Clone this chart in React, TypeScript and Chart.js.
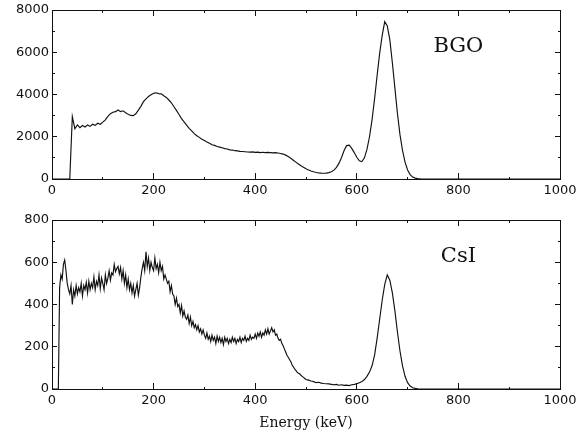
import React, { useEffect, useRef } from 'react';
import { Chart, registerables } from 'chart.js';

Chart.register(...registerables);

// BGO spectrum: 5 keV bins from 0 to 1000 keV
const BGO_BIN_KEV = 5;
const BGO_COUNTS = [
  0, 0, 0, 0, 0, 0, 0, 0,
  2950, 2380, 2560, 2430, 2530, 2460, 2560, 2490, 2590, 2540, 2640, 2590,
  2690, 2800, 2960, 3090, 3160, 3190, 3270, 3190, 3230, 3140, 3060, 3010, 3000, 3090, 3260, 3440, 3660, 3790, 3910, 3990,
  4060, 4080, 4040, 4030, 3940, 3860, 3740, 3610, 3420, 3250, 3050, 2860, 2700, 2550, 2400, 2280, 2150, 2050, 1970, 1880,
  1820, 1750, 1690, 1620, 1590, 1540, 1510, 1480, 1440, 1420, 1380, 1370, 1340, 1330, 1310, 1300, 1290, 1280, 1270, 1285,
  1260, 1275, 1250, 1265, 1250, 1260, 1250, 1240, 1250, 1230, 1210, 1180, 1130, 1060, 980, 890, 800, 710, 630, 560,
  490, 430, 380, 340, 310, 290, 275, 270, 280, 300, 340, 420, 550, 750, 1020, 1350, 1580, 1600, 1450, 1250,
  1030, 860, 820, 1000, 1400, 2000, 2800, 3800, 4900, 5950, 6800, 7450, 7250, 6600, 5500, 4300, 3100, 2100, 1350, 800,
  430, 210, 90, 40, 15, 5, 0, 0, 0, 0, 0, 0, 0, 0, 0, 0, 0, 0, 0, 0,
  0, 0, 0, 0, 0, 0, 0, 0, 0, 0, 0, 0, 0, 0, 0, 0, 0, 0, 0, 0,
  0, 0, 0, 0, 0, 0, 0, 0, 0, 0, 0, 0, 0, 0, 0, 0, 0, 0, 0, 0,
  0,
];

// CsI spectrum: 2.5 keV bins from 0 to 497.5 keV ...
const CSI_LOW_BIN_KEV = 2.5;
const CSI_LOW_START_KEV = 0;
const CSI_LOW_COUNTS = [
  0, 0, 0, 0, 0, 0, 480, 540, 520, 590, 610, 560, 500, 470, 450, 490, 400, 470, 440, 490,
  450, 480, 460, 500, 440, 490, 470, 505, 455, 510, 470, 500, 480, 530, 470, 510, 490, 540, 475, 525,
  500, 470, 540, 500, 525, 560, 515, 550, 540, 590, 555, 570, 580, 545, 575, 520, 560, 500, 540, 480,
  520, 470, 500, 455, 490, 440, 470, 500, 445, 480, 530, 570, 600, 560, 650, 580, 620, 560, 600, 575,
  560, 620, 570, 590, 550, 600, 560, 580, 520, 540, 520, 500, 510, 460, 490, 450, 440, 400, 430, 390,
  400, 360, 395, 345, 370, 340, 330, 350, 310, 340, 300, 320, 290, 305, 280, 300, 270, 285, 260, 280,
  255, 240, 265, 235, 250, 225, 255, 230, 245, 215, 250, 225, 245, 220, 240, 210, 245, 225, 240, 215,
  235, 220, 245, 225, 240, 215, 235, 225, 245, 220, 240, 230, 250, 225, 240, 230, 255, 235, 245, 240,
  260, 240, 265, 250, 270, 245, 265, 255, 280, 260, 285, 260, 275, 290, 270, 280, 255, 260, 240, 230,
  235, 215, 205, 190, 175, 160, 150, 140, 130, 115, 105, 95, 88, 80, 75, 72, 65, 60, 55, 50,
];
// ... then 5 keV bins from 500 to 1000 keV
const CSI_HIGH_BIN_KEV = 5;
const CSI_HIGH_START_KEV = 500;
const CSI_HIGH_COUNTS = [
  45, 42, 38, 35, 30, 32, 28, 26, 25, 24, 22, 20, 22, 18, 20, 17, 18, 16, 20, 22,
  25, 30, 35, 45, 60, 80, 110, 160, 240, 330, 420, 495, 540, 515, 455, 370, 270, 180, 110, 60,
  30, 14, 6, 3, 1, 0, 0, 0, 0, 0, 0, 0, 0, 0, 0, 0, 0, 0, 0, 0,
  0, 0, 0, 0, 0, 0, 0, 0, 0, 0, 0, 0, 0, 0, 0, 0, 0, 0, 0, 0,
  0, 0, 0, 0, 0, 0, 0, 0, 0, 0, 0, 0, 0, 0, 0, 0, 0, 0, 0, 0,
  0,
];

const X_TICK_LABELS = [0, 200, 400, 600, 800, 1000];
const BGO_Y_TICK_LABELS = [0, 2000, 4000, 6000, 8000];
const CSI_Y_TICK_LABELS = [0, 200, 400, 600, 800];
const X_TITLE = 'Energy (keV)';

const INK = '#111111';

const toPoints = (counts: number[], start: number, bin: number) =>
  counts.map((c, i) => ({ x: start + i * bin, y: c }));

const BGO_POINTS = toPoints(BGO_COUNTS, 0, BGO_BIN_KEV);
const CSI_POINTS = [
  ...toPoints(CSI_LOW_COUNTS, CSI_LOW_START_KEV, CSI_LOW_BIN_KEV),
  ...toPoints(CSI_HIGH_COUNTS, CSI_HIGH_START_KEV, CSI_HIGH_BIN_KEV),
];

// Labels (tick numbers, axis title, panel name) placed through the scales
const labelPlugin = {
  id: 'panelLabels',
  afterDraw(chart: any, _args: any, opts: any) {
    const { ctx, chartArea, scales } = chart;
    const xs = scales.x;
    const ys = scales.y;
    const L = chartArea.left;
    const R = chartArea.right;
    const B = chartArea.bottom;
    ctx.save();
    ctx.fillStyle = INK;
    ctx.font = '13px "DejaVu Sans", sans-serif';
    ctx.textBaseline = 'middle';
    ctx.textAlign = 'center';
    X_TICK_LABELS.forEach((v) => {
      ctx.fillText(String(v), xs.getPixelForValue(v), B + 12);
    });
    ctx.textAlign = 'right';
    (opts.yMajor as number[]).forEach((v) => {
      ctx.fillText(String(v), L - 3, ys.getPixelForValue(v));
    });
    if (opts.showTitle) {
      ctx.font = '14px "DejaVu Serif", serif';
      ctx.textAlign = 'center';
      ctx.fillText(X_TITLE, (L + R) / 2, B + 34);
    }
    ctx.font = '21px "DejaVu Serif", serif';
    ctx.textAlign = 'center';
    ctx.textBaseline = 'alphabetic';
    ctx.fillText(opts.label, xs.getPixelForValue(800), ys.getPixelForValue(opts.labelY));
    ctx.restore();
  },
};

// inward tick marks: major ticks full length, minor ones cut short by a dash
const tickAxis = (
  position: string,
  min: number,
  max: number,
  step: number,
  majors: number[],
  len: number,
  fromBorder: boolean,
  size: number,
) => ({
  type: 'linear',
  position,
  min,
  max,
  border: { display: true, color: INK, width: 1 },
  grid: {
    display: true,
    drawOnChartArea: false,
    drawTicks: true,
    tickLength: -len,
    tickColor: INK,
    tickWidth: 1,
    tickBorderDash: (c: any) => {
      const v = c.tick ? c.tick.value : 0;
      if (majors.indexOf(v) >= 0) return [];
      return fromBorder ? [3, 100] : [0, len - 3, 3, 100];
    },
  },
  ticks: { display: false, stepSize: step, autoSkip: false },
  afterFit: (s: any) => {
    if (position === 'top' || position === 'bottom') s.height = size;
    else s.width = size;
  },
});

type PanelProps = {
  points: { x: number; y: number }[];
  yMax: number;
  yStep: number;
  yLabels: number[];
  label: string;
  labelY: number;
  top: number;
  height: number;
  axisHeight: number;
  showTitle: boolean;
};

function Panel(p: PanelProps) {
  const ref = useRef<HTMLCanvasElement | null>(null);
  useEffect(() => {
    if (!ref.current) return;
    const chart = new Chart(ref.current, {
      type: 'line',
      data: {
        datasets: [
          {
            data: p.points,
            xAxisID: 'x',
            yAxisID: 'y',
            borderColor: INK,
            borderWidth: 1.15,
            pointRadius: 0,
            tension: 0,
            fill: false,
          },
        ],
      },
      plugins: [labelPlugin],
      options: {
        animation: false,
        responsive: false,
        devicePixelRatio: 1,
        layout: { padding: { top: 10, right: 28, left: 0, bottom: 0 } },
        plugins: {
          legend: { display: false },
          tooltip: { enabled: false },
          panelLabels: { yMajor: p.yLabels, label: p.label, labelY: p.labelY, showTitle: p.showTitle },
        } as any,
        scales: {
          x: tickAxis('bottom', 0, 1000, 100, X_TICK_LABELS, 6, true, p.axisHeight),
          x2: tickAxis('top', 0, 1000, 100, X_TICK_LABELS, 6, false, 0),
          y: tickAxis('left', 0, p.yMax, p.yStep, p.yLabels, 5, false, 52),
          y2: tickAxis('right', 0, p.yMax, p.yStep, p.yLabels, 5, true, 0),
        },
      } as any,
    });
    return () => chart.destroy();
  }, []);
  return (
    <canvas
      ref={ref}
      width={588}
      height={p.height}
      style={{ position: 'absolute', left: 0, top: p.top, width: 588, height: p.height }}
    />
  );
}

export default function App() {
  return (
    <div style={{ position: 'fixed', left: 0, top: 0, width: 588, height: 436, background: '#fff' }}>
      <Panel
        points={BGO_POINTS}
        yMax={8000}
        yStep={1000}
        yLabels={BGO_Y_TICK_LABELS}
        label="BGO"
        labelY={6000}
        top={0}
        height={205}
        axisHeight={26}
        showTitle={false}
      />
      <Panel
        points={CSI_POINTS}
        yMax={800}
        yStep={100}
        yLabels={CSI_Y_TICK_LABELS}
        label="CsI"
        labelY={600}
        top={210}
        height={226}
        axisHeight={47}
        showTitle={true}
      />
    </div>
  );
}
